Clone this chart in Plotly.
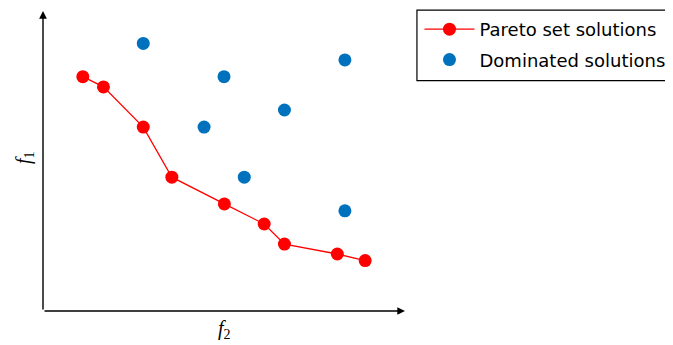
import plotly.graph_objects as go

pareto_f2 = [1.10, 1.67, 2.77, 3.56, 5.01, 6.11, 6.67, 8.13, 8.90]
pareto_f1 = [7.81, 7.47, 6.13, 4.46, 3.57, 2.90, 2.23, 1.90, 1.68]
dom_f2 = [2.77, 5.00, 8.34, 4.45, 6.67, 5.56, 8.34]
dom_f1 = [8.92, 7.81, 8.37, 6.13, 6.70, 4.46, 3.34]

RED = "#FF0000"
BLUE = "#0072BD"

fig = go.Figure()
fig.add_trace(go.Scatter(x=pareto_f2, y=pareto_f1, mode="lines+markers",
                         name="Pareto set solutions", legendgroup="p",
                         line=dict(color=RED, width=1.3),
                         marker=dict(color=RED, size=13)))
fig.add_trace(go.Scatter(x=dom_f2, y=dom_f1, mode="markers",
                         name="Dominated solutions", legendgroup="d",
                         marker=dict(color=BLUE, size=13)))

# axes with arrows
for (x, y) in [(10, 0), (0, 10)]:
    fig.add_annotation(x=x, y=y, ax=0, ay=0, xref="x", yref="y",
                       axref="x", ayref="y", text="", showarrow=True,
                       arrowhead=2, arrowsize=1.1, arrowwidth=1.4,
                       arrowcolor="black", standoff=0)

fig.add_annotation(x=5.0, y=0, xref="x", yref="y", yshift=-18,
                   text="<i>f</i><sub>2</sub>", showarrow=False,
                   font=dict(family="Liberation Serif", size=20, color="black"))
fig.add_annotation(x=0, y=5.1, xref="x", yref="y", xshift=-19,
                   text="<i>f</i><sub>1</sub>", showarrow=False, textangle=-90,
                   font=dict(family="Liberation Serif", size=20, color="black"))

# legend frame (runs off the right edge, as in the original)
fig.add_shape(type="rect", xref="paper", yref="paper",
              x0=1.033, x1=1.8, y0=0.768, y1=1.003,
              line=dict(color="black", width=1.2), fillcolor="rgba(0,0,0,0)")

fig.update_xaxes(range=[0, 10], visible=False)
fig.update_yaxes(range=[0, 10], visible=False)

# page body has an 8px default margin; compensate
fig.update_layout(
    width=665, height=337,
    margin=dict(l=35, r=268, t=3, b=34, autoexpand=False),
    plot_bgcolor="white", paper_bgcolor="white",
    legend=dict(x=1.040, y=1.0, xanchor="left", yanchor="top",
                borderwidth=0, bgcolor="rgba(0,0,0,0)",
                font=dict(family="DejaVu Sans", size=18, color="black"),
                itemwidth=50, tracegroupgap=4),
)

fig.write_html("out.html")
